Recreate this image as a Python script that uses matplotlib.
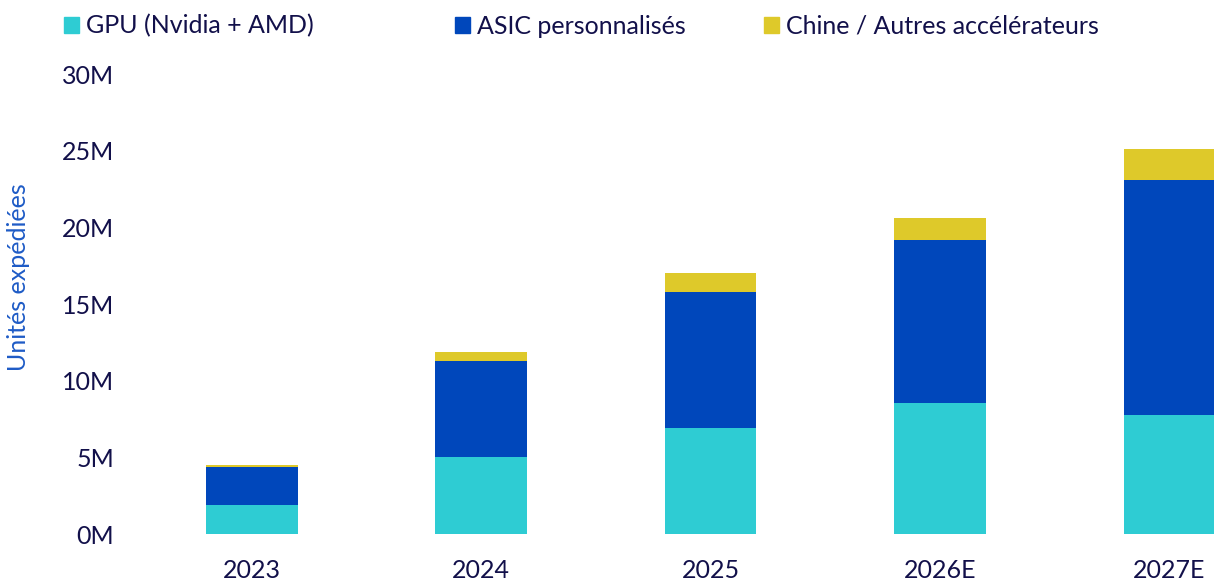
import numpy as np
import matplotlib.pyplot as plt
from matplotlib.patches import Patch
from matplotlib.ticker import FuncFormatter

plt.rcParams['font.family'] = ['Lato', 'DejaVu Sans']

# Unités expédiées (millions)
years = ["2023", "2024", "2025", "2026E", "2027E"]
gpu = [1.9, 5.0, 6.9, 8.55, 7.75]
asic = [2.5, 6.3, 8.9, 10.6, 15.35]
chine = [0.1, 0.6, 1.2, 1.45, 2.0]

labels = ["GPU (Nvidia + AMD)", "ASIC personnalisés", "Chine / Autres accélérateurs"]
colors = ["#2ECCD3", "#0047BB", "#DEC92A"]
text_col = "#12104A"

W, H = 1214, 585
fig = plt.figure(figsize=(W / 100, H / 100), dpi=100)
ax = fig.add_axes([137 / W, 1 - 534 / H, (W - 137) / W, 460 / H])

x = np.arange(len(years))
bottom = np.zeros(len(years))
for vals, c in zip([gpu, asic, chine], colors):
    ax.bar(x, vals, width=0.4, bottom=bottom, color=c, linewidth=0)
    bottom += np.array(vals)

ax.set_ylim(0, 30)
ax.set_xlim(-0.5, 4.194)
ax.set_yticks(range(0, 31, 5))
ax.yaxis.set_major_formatter(FuncFormatter(lambda v, p: f"{int(v)}M"))
ax.set_xticks(x)
ax.set_xticklabels(years)
ax.tick_params(axis='y', length=0, pad=16.5, labelsize=18, labelcolor=text_col)
ax.tick_params(axis='x', length=0, pad=18, labelsize=18, labelcolor=text_col)
for s in ax.spines.values():
    s.set_visible(False)

ax.set_ylabel("Unités expédiées", fontsize=18, color="#1E5BC6")
ax.yaxis.set_label_coords(-0.0994, 0.559)

# légende en haut, trois entrées placées séparément
legend_x = [64, 455, 764]
for lab, c, lx in zip(labels, colors, legend_x):
    fig.legend(handles=[Patch(color=c, label=lab)], loc='center left',
               bbox_to_anchor=(lx / W, 1 - 26 / H), frameon=False,
               fontsize=18, labelcolor=text_col, borderpad=0, borderaxespad=0,
               handlelength=0.6, handleheight=0.6, handletextpad=0.3)

fig.savefig("out.png", dpi=100)
